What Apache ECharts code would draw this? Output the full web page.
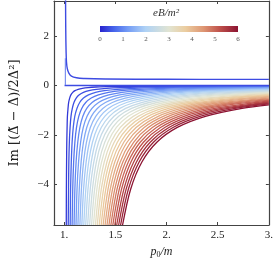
<!DOCTYPE html>
<html><head><meta charset="utf-8">
<script src="https://cdn.jsdelivr.net/npm/echarts@6/dist/echarts.min.js"></script>
<style>html,body{margin:0;padding:0;background:#fff}#c{width:276px;height:265px}</style>
</head><body><div id="c"></div>
<script>
// ---- data ----
const X_TICKS = [1, 1.5, 2, 2.5, 3];
const X_TICK_LABELS = ['1.', '1.5', '2.', '2.5', '3.'];
const Y_TICKS = [-4, -2, 0, 2];
const Y_TICK_LABELS = ['\u22124', '\u22122', '0', '2'];
const CB_TICKS = [0, 1, 2, 3, 4, 5, 6];

// eB/m^2 value of each curve of the family
const B_VALUES = [0.2,0.4,0.6,0.8,1.0,1.2,1.4,1.6,1.8,2.0,2.2,2.4,2.6,2.8,3.0,
                  3.2,3.4,3.6,3.8,4.0,4.2,4.4,4.6,4.8,5.0,5.2,5.4,5.6,5.8,6.0];
// curve heights at which the x position of every curve was read
const LEVELS = [-5.65,-4.2,-3.1,-2.3,-1.7,-1.25,-0.93,-0.69,-0.51,-0.38,-0.28,-0.21,-0.155,-0.115,-0.085,-0.063,-0.047];
// x position of each curve at each level (only where the curve reaches it before x = 3)
const X_AT_LEVEL = [
 [1.020,1.021,1.023,1.025,1.028,1.031,1.037,1.043,1.053,1.065,1.083,1.105,1.136,1.178,1.234,1.310,1.410],
 [1.039,1.042,1.045,1.050,1.057,1.066,1.079,1.095,1.117,1.147,1.188,1.241,1.315,1.414,1.549,1.730,1.967],
 [1.058,1.062,1.069,1.077,1.088,1.103,1.124,1.151,1.188,1.237,1.306,1.393,1.517,1.681,1.905,2.205,2.600],
 [1.077,1.083,1.092,1.104,1.120,1.142,1.171,1.210,1.264,1.334,1.432,1.557,1.734,1.969,2.290,2.720],
 [1.096,1.104,1.116,1.132,1.153,1.182,1.220,1.272,1.343,1.436,1.566,1.731,1.964,2.275,2.700],
 [1.115,1.125,1.140,1.160,1.186,1.223,1.271,1.336,1.425,1.542,1.705,1.912,2.206,2.596],
 [1.134,1.147,1.165,1.188,1.220,1.265,1.323,1.402,1.510,1.651,1.849,2.100,2.457,2.930],
 [1.153,1.168,1.189,1.217,1.255,1.308,1.377,1.470,1.597,1.764,1.998,2.295,2.716],
 [1.172,1.189,1.214,1.246,1.290,1.352,1.431,1.539,1.687,1.880,2.151,2.495,2.983],
 [1.191,1.211,1.239,1.276,1.326,1.396,1.487,1.610,1.778,1.999,2.309,2.701],
 [1.210,1.232,1.264,1.305,1.362,1.441,1.543,1.682,1.871,2.120,2.469,2.910],
 [1.229,1.254,1.289,1.335,1.399,1.486,1.600,1.755,1.966,2.244,2.633],
 [1.248,1.276,1.314,1.365,1.436,1.532,1.658,1.829,2.063,2.370,2.799],
 [1.267,1.297,1.340,1.396,1.473,1.579,1.717,1.905,2.161,2.497,2.969],
 [1.286,1.319,1.365,1.427,1.510,1.626,1.777,1.981,2.261,2.627],
 [1.305,1.341,1.391,1.457,1.548,1.674,1.837,2.058,2.361,2.759],
 [1.323,1.362,1.417,1.488,1.586,1.722,1.898,2.137,2.463,2.892],
 [1.342,1.384,1.442,1.519,1.625,1.770,1.959,2.216,2.567],
 [1.361,1.406,1.468,1.551,1.663,1.819,2.021,2.296,2.672],
 [1.380,1.428,1.494,1.582,1.702,1.868,2.084,2.377,2.777],
 [1.399,1.450,1.521,1.614,1.742,1.918,2.147,2.458,2.884],
 [1.418,1.472,1.547,1.646,1.781,1.968,2.211,2.541,2.992],
 [1.437,1.494,1.573,1.678,1.821,2.018,2.275,2.624],
 [1.456,1.516,1.599,1.710,1.861,2.069,2.340,2.708],
 [1.475,1.538,1.626,1.742,1.901,2.120,2.405,2.792],
 [1.494,1.560,1.652,1.774,1.941,2.171,2.471,2.877],
 [1.513,1.583,1.679,1.807,1.982,2.223,2.537,2.963],
 [1.532,1.605,1.706,1.840,2.023,2.275,2.603],
 [1.551,1.627,1.732,1.872,2.063,2.327,2.670],
 [1.570,1.649,1.759,1.905,2.105,2.380,2.738]
];
// value of each curve at the right edge x = 3
const X_RIGHT = 3;
const Y_AT_RIGHT = [-0.009,-0.022,-0.037,-0.054,-0.072,-0.091,-0.111,-0.132,-0.154,-0.176,
                    -0.200,-0.224,-0.249,-0.275,-0.302,-0.329,-0.357,-0.386,-0.415,-0.445,
                    -0.476,-0.508,-0.540,-0.573,-0.606,-0.640,-0.675,-0.710,-0.746,-0.783];
// the two eB = 0 branches at the top
const POS_X = [1.013,1.015,1.018,1.022,1.030,1.045,1.070,1.120,1.200,1.400,2.000,3.000];
const POS_Y = [3.45, 2.2, 1.4, 0.95, 0.68, 0.50, 0.38, 0.31, 0.28, 0.26, 0.25, 0.245];
const ZERO_X = [1.003, 1.012, 3.0];
const ZERO_Y = [0.0, 0.0, 0.0];
const SPIKE_X = [1.011, 1.011];
const SPIKE_Y = [1.1, 0.02];

// ---- style ----
const CMAP = [
 [0.00,[40,35,205]],[0.10,[70,100,235]],[0.20,[115,155,245]],[0.33,[175,210,245]],
 [0.50,[225,228,210]],[0.62,[235,205,160]],[0.75,[222,150,115]],[0.87,[190,80,75]],[1.00,[140,20,50]]
];
function cmap(t){
  for(let i=1;i<CMAP.length;i++){
    if(t<=CMAP[i][0]){
      const a=CMAP[i-1], b=CMAP[i], f=(t-a[0])/(b[0]-a[0]);
      const c=a[1].map((v,j)=>Math.round(v+(b[1][j]-v)*f));
      return 'rgb('+c.join(',')+')';
    }
  }
  return 'rgb('+CMAP[CMAP.length-1][1].join(',')+')';
}
const SERIF = '"Liberation Serif","DejaVu Serif",serif';
const AX = '#444';

const series = [];
B_VALUES.forEach((b,k)=>{
  const pts = X_AT_LEVEL[k].map((x,i)=>[x, LEVELS[i]]);
  pts.push([X_RIGHT, Y_AT_RIGHT[k]]);
  series.push({type:'line', xAxisIndex:0, yAxisIndex:0, data:pts, showSymbol:false,
    smooth:0.3, lineStyle:{color:cmap(b/6), width:1.3}, silent:true});
});
series.push({type:'line', data:POS_X.map((x,i)=>[x,POS_Y[i]]), showSymbol:false, smooth:0.4,
  lineStyle:{color:'#3d4be2', width:1.4}});
series.push({type:'line', data:ZERO_X.map((x,i)=>[x,ZERO_Y[i]]), showSymbol:false,
  lineStyle:{color:'#3d4be2', width:1.6}});
series.push({type:'line', data:SPIKE_X.map((x,i)=>[x,SPIKE_Y[i]]), showSymbol:false,
  lineStyle:{color:'#6f86ee', width:1.1}});
// colour bar
series.push({type:'line', xAxisIndex:2, yAxisIndex:2, data:[[0,1],[6,1]], showSymbol:false,
  lineStyle:{width:0}, areaStyle:{opacity:1, color:{type:'linear',x:0,y:0,x2:1,y2:0,
  colorStops:CMAP.map(s=>({offset:s[0], color:'rgb('+s[1].join(',')+')'}))}}});

const chart = echarts.init(document.getElementById('c'), null, {renderer:'canvas'});
chart.setOption({
  animation:false,
  backgroundColor:'#fff',
  grid:[{left:49, right:4, top:1, bottom:40}, {left:100, top:26, width:138, height:6}],
  xAxis:[
    {type:'value', gridIndex:0, min:0.9, max:3.0, position:'bottom',
     axisLine:{show:true, onZero:false, lineStyle:{color:AX, width:1.2}},
     axisTick:{show:true, inside:true, length:3, customValues:X_TICKS, lineStyle:{color:AX}},
     axisLabel:{customValues:X_TICKS, formatter:v=>X_TICK_LABELS[X_TICKS.indexOf(v)], fontFamily:SERIF, fontSize:11, color:'#222', margin:5},
     splitLine:{show:false},
     name:'{i|p}{s|0}{i|/m}', nameLocation:'middle', nameGap:19,
     nameTextStyle:{rich:{i:{fontFamily:SERIF, fontStyle:'italic', fontSize:12, color:'#222'},
                          s:{fontFamily:SERIF, fontSize:8, color:'#222', padding:[6,0,0,0]}}}},
    {type:'value', gridIndex:0, min:0.9, max:3.0, position:'top',
     axisLine:{show:true, onZero:false, lineStyle:{color:AX, width:1.2}},
     axisTick:{show:true, inside:true, length:3, customValues:X_TICKS, lineStyle:{color:AX}},
     axisLabel:{show:false}, splitLine:{show:false}},
    {type:'value', gridIndex:1, min:0, max:6, interval:1,
     axisLine:{show:false}, axisTick:{show:true, inside:true, length:2, lineStyle:{color:'rgba(255,255,255,0.6)'}},
     axisLabel:{fontFamily:SERIF, fontSize:7, color:'#555', margin:4,
       customValues:CB_TICKS}, splitLine:{show:false}}
  ],
  yAxis:[
    {type:'value', gridIndex:0, min:-5.65, max:3.42, position:'left',
     axisLine:{show:true, onZero:false, lineStyle:{color:AX, width:1.2}},
     axisTick:{show:true, inside:true, length:3, customValues:Y_TICKS, lineStyle:{color:AX}},
     axisLabel:{customValues:Y_TICKS, formatter:v=>Y_TICK_LABELS[Y_TICKS.indexOf(v)], fontFamily:SERIF, fontSize:11, color:'#222', margin:5},
     splitLine:{show:false},
     name:'Im [(\u0394\u0303 \u2212 \u0394)/2\u0394\u00B2]', nameLocation:'middle', nameGap:33,
     nameTextStyle:{fontFamily:'"DejaVu Serif",serif', fontSize:13, color:'#222'}},
    {type:'value', gridIndex:0, min:-5.65, max:3.42, position:'right',
     axisLine:{show:true, onZero:false, lineStyle:{color:AX, width:1.2}},
     axisTick:{show:true, inside:true, length:3, customValues:Y_TICKS, lineStyle:{color:AX}},
     axisLabel:{show:false}, splitLine:{show:false}},
    {type:'value', gridIndex:1, min:0, max:1, show:false}
  ],
  graphic:[{type:'text', x:166, y:8, style:{text:'eB/m\u00B2', font:'italic 11px '+SERIF, fill:'#333', textAlign:'center'}}],
  series: series
});
</script></body></html>
